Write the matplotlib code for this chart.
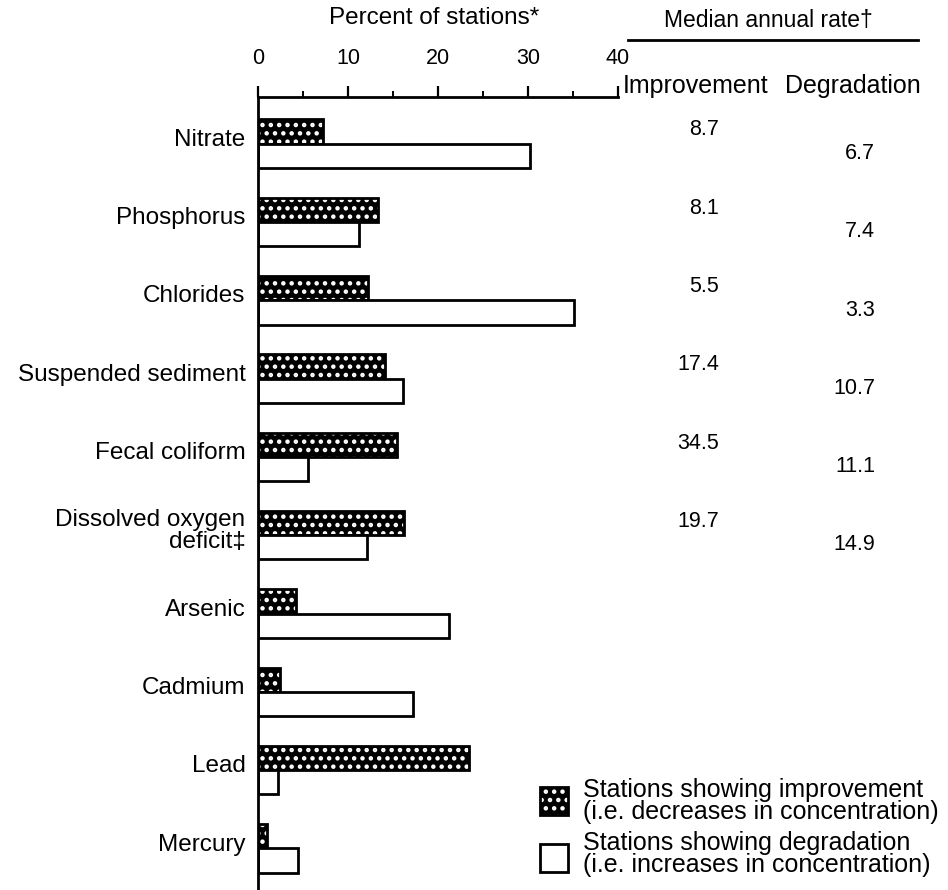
import numpy as np
import matplotlib
matplotlib.use("Agg")
import matplotlib.pyplot as plt
from matplotlib.patches import Rectangle
from matplotlib.lines import Line2D
import matplotlib.transforms as mtransforms

plt.rcParams['font.family'] = ['Liberation Sans', 'DejaVu Sans']
plt.rcParams['hatch.linewidth'] = 2.0

# data
constituents = ["Nitrate", "Phosphorus", "Chlorides", "Suspended sediment",
                "Fecal coliform", "Dissolved oxygen\ndeficit\u2021", "Arsenic",
                "Cadmium", "Lead", "Mercury"]
improvement_pct = [7.2, 13.3, 12.2, 14.1, 15.4, 16.2, 4.2, 2.4, 23.4, 1.0]
degradation_pct = [30.2, 11.2, 35.1, 16.1, 5.5, 12.1, 21.2, 17.2, 2.2, 4.4]
rate_improvement = ["8.7", "8.1", "5.5", "17.4", "34.5", "19.7"]
rate_degradation = ["6.7", "7.4", "3.3", "10.7", "11.1", "14.9"]
legend_labels = ["Stations showing improvement\n(i.e. decreases in concentration)",
                 "Stations showing degradation\n(i.e. increases in concentration)"]

W, H = 948, 890
fig = plt.figure(figsize=(W / 100, H / 100), dpi=100)
ax = fig.add_axes([258 / W, 0, 360 / W, (H - 97) / H])

y = np.arange(len(constituents))
bh = 0.31

# dotted bars: black fill with white dots, then a black outline on top
ax.barh(y - bh / 2, improvement_pct, height=bh, color='black',
        edgecolor='white', hatch='..', linewidth=0)
ax.barh(y - bh / 2, improvement_pct, height=bh, fill=False,
        edgecolor='black', linewidth=2)
ax.barh(y + bh / 2, degradation_pct, height=bh, color='white',
        edgecolor='black', linewidth=2)

ax.set_xlim(0, 40)
ax.set_ylim(9.53, -0.595)

ax.xaxis.tick_top()
ax.set_xticks([0, 10, 20, 30, 40])
ax.set_xticks([5, 15, 25, 35], minor=True)
ax.tick_params(axis='x', which='major', direction='out', length=8, width=1.6,
               pad=12, labelsize=15.5)
ax.tick_params(axis='x', which='minor', direction='out', length=4, width=1.4)
ax.set_yticks(y - 0.08)
ax.set_yticklabels(constituents, fontsize=17.5, linespacing=0.95)
ax.tick_params(axis='y', length=0, pad=9)
for s in ['right', 'bottom']:
    ax.spines[s].set_visible(False)
ax.spines['top'].set_linewidth(2)
ax.spines['left'].set_linewidth(2)

fig.text(434 / W, 1 - 18 / H, "Percent of stations*", ha='center', va='center',
         fontsize=17.5)

# median annual rate columns
fig.text(768 / W, 1 - 20 / H, "Median annual rate\u2020", ha='center', va='center',
         fontsize=16.5)
fig.add_artist(Line2D([628 / W, 918 / W], [1 - 40 / H, 1 - 40 / H],
                      color='black', lw=2))
fig.text(623 / W, 1 - 86 / H, "Improvement", ha='left', va='center', fontsize=18)
fig.text(785 / W, 1 - 86 / H, "Degradation", ha='left', va='center', fontsize=18)

trans = mtransforms.blended_transform_factory(fig.transFigure, ax.transData)
for i, (a, b) in enumerate(zip(rate_improvement, rate_degradation)):
    ax.text(719 / W, i - bh / 2 - 0.02, a, transform=trans, ha='right',
            va='center', fontsize=15.5, clip_on=False)
    ax.text(875 / W, i + bh / 2 - 0.03, b, transform=trans, ha='right',
            va='center', fontsize=15.5, clip_on=False)

# legend drawn by hand
box1 = (540 / W, 1 - 815 / H)
box2 = (540 / W, 1 - 872 / H)
bw, bhh = 28 / W, 28 / H
fig.add_artist(Rectangle(box1, bw, bhh, transform=fig.transFigure,
                         facecolor='black', edgecolor='white', hatch='..', lw=0))
fig.add_artist(Rectangle(box1, bw, bhh, transform=fig.transFigure,
                         fill=False, edgecolor='black', lw=2))
fig.add_artist(Rectangle(box2, bw, bhh, transform=fig.transFigure,
                         facecolor='white', edgecolor='black', lw=2))
fig.text(583 / W, 1 - 801 / H, legend_labels[0], ha='left', va='center',
         fontsize=18, linespacing=0.85)
fig.text(583 / W, 1 - 854 / H, legend_labels[1], ha='left', va='center',
         fontsize=18, linespacing=0.85)

fig.savefig("out.png", dpi=100)
